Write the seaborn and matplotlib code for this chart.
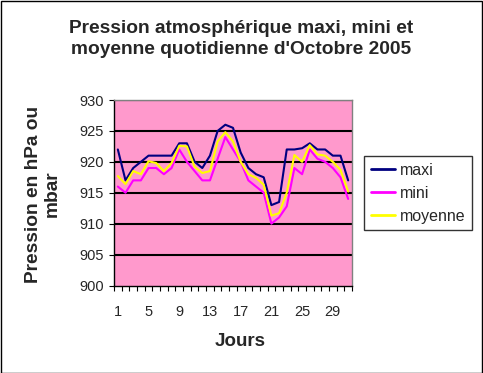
import matplotlib
matplotlib.use("Agg")
import matplotlib.pyplot as plt
import seaborn as sns
import pandas as pd
import numpy as np

days = list(range(1, 32))
maxi = [922, 917, 919, 920, 921, 921, 921, 921, 923, 923, 920, 919, 921, 925, 926, 925.5,
        921.5, 919, 918, 917.5, 913, 913.5, 922, 922, 922.2, 923, 922, 922, 921, 921, 917]
mini = [916, 915, 917, 917, 919, 919, 918, 919, 922, 920, 918.5, 917, 917, 920.5, 924, 922,
        920, 917, 916, 915, 910, 911, 912.8, 919, 918, 922, 920.5, 920, 919, 917.5, 914]
moyenne = [917.7, 916.4, 918.5, 918, 920.1, 919.8, 918.5, 919.8, 922.6, 922.5, 919.2, 918.2,
           918.5, 923.3, 924.8, 923.3, 920, 918, 917.4, 916.3, 911.3, 911.7, 915, 921.1, 920,
           922.7, 921.2, 921, 920, 918.7, 915.2]
series_names = ["maxi", "mini", "moyenne"]
colors = ["#000080", "#FF00FF", "#FFFF00"]
yticks = [900, 905, 910, 915, 920, 925, 930]
xlabels = [1, 5, 9, 13, 17, 21, 25, 29]

df = pd.DataFrame({
    "Jour": days * 3,
    "Pression": maxi + mini + moyenne,
    "Serie": ["maxi"] * 31 + ["mini"] * 31 + ["moyenne"] * 31,
})

sns.set_style("white")
plt.rcParams["font.family"] = ["Liberation Sans", "DejaVu Sans"]

fig = plt.figure(figsize=(4.83, 3.73), dpi=100)
ax = fig.add_axes([114 / 483, 1 - 285.5 / 373, 238 / 483, 185.5 / 373])
ax.set_facecolor("#FF99CC")

for y in yticks[1:]:
    ax.axhline(y, color="black", lw=1.5, zorder=1)

sns.lineplot(data=df, x="Jour", y="Pression", hue="Serie", hue_order=series_names,
             palette=colors, linewidth=1.5, ax=ax, legend=True, zorder=3)

ax.set_xlim(0.5, 31.5)
ax.set_ylim(900, 930)
ax.set_yticks(yticks)
ax.set_yticklabels([str(v) for v in yticks], fontsize=10.5)
ax.set_xticks(xlabels)
ax.set_xticklabels([str(v) for v in xlabels], fontsize=10.5)
ax.set_xticks(np.arange(0.5, 32, 1), minor=True)
ax.tick_params(axis="x", which="major", length=0, pad=14)
ax.tick_params(axis="x", which="minor", length=3.6, width=0.8, color="black", direction="out", bottom=True)
ax.tick_params(axis="y", which="major", length=3.6, width=0.8, color="black", direction="out", left=True, pad=3.6)

ax.set_xlabel("")
ax.set_ylabel("")
for side in ["top", "right"]:
    ax.spines[side].set_color("#808080")
    ax.spines[side].set_linewidth(1)
for side in ["left", "bottom"]:
    ax.spines[side].set_color("black")
    ax.spines[side].set_linewidth(1)

leg = ax.legend(loc="center", bbox_to_anchor=(418 / 483, 1 - 193.3 / 373),
                bbox_transform=fig.transFigure, frameon=True, fancybox=False,
                edgecolor="black", fontsize=11.5, handlelength=1.5, borderpad=0.4,
                labelspacing=0.5, handletextpad=0.3)
leg.get_frame().set_linewidth(1)
for line in leg.get_lines():
    line.set_linewidth(2)

fig.text(241 / 483, 1 - 39 / 373,
         "Pression atmosphérique maxi, mini et\nmoyenne quotidienne d'Octobre 2005",
         ha="center", va="center", fontsize=13.8, fontweight="bold", linespacing=1.25)
fig.text(240 / 483, 1 - 342 / 373, "Jours", ha="center", va="center",
         fontsize=13.5, fontweight="bold")
fig.text(43 / 483, 1 - 194 / 373, "Pression en hPa ou\nmbar", ha="center", va="center",
         rotation=90, fontsize=13.8, fontweight="bold", linespacing=1.15)

border = plt.Rectangle((0.5 / 483, 0.5 / 373), 481.5 / 483, 371.5 / 373,
                       transform=fig.transFigure, fill=False, edgecolor="black", lw=1)
fig.patches.append(border)

fig.savefig("out.png", dpi=100)
